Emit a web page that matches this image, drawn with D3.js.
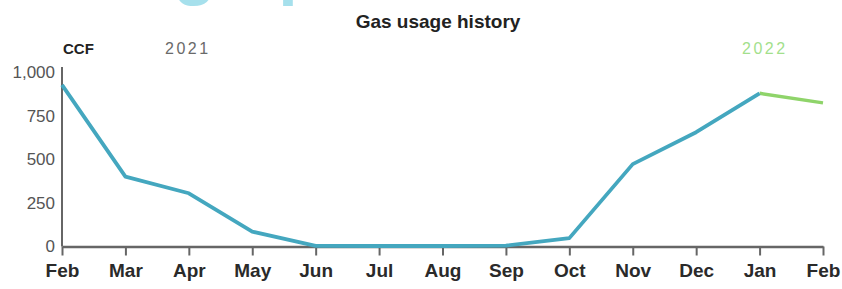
<!DOCTYPE html>
<html>
<head>
<meta charset="utf-8">
<script src="https://cdn.jsdelivr.net/npm/d3@7"></script>
<style>
  body { margin: 0; background: #fff; }
  svg { display: block; }
</style>
</head>
<body>
<svg width="842" height="289"></svg>
<script>
// chart values
var months = ["Feb", "Mar", "Apr", "May", "Jun", "Jul", "Aug", "Sep", "Oct", "Nov", "Dec", "Jan", "Feb"];
var usage = [926, 400, 305, 85, 4, 3, 3, 5, 48, 472, 655, 878, 823];
var yTicks = [0, 250, 500, 750, 1000];
var split = 11; // Jan: where the 2022 segment starts

(function () {
    var margin = { top: 72, right: 19, bottom: 42.5, left: 62 };
    var svg = d3.select("svg");
    var width = +svg.attr("width") - margin.left - margin.right;
    var height = +svg.attr("height") - margin.top - margin.bottom;

    var x = d3.scalePoint().domain(d3.range(months.length)).range([0, width]);
    var y = d3.scaleLinear().domain([0, 1000]).range([height, 0]);

    // cut-off headline above the chart (only the descenders show)
    svg.append("text")
        .attr("x", 321).attr("y", -9)
        .attr("text-anchor", "end")
        .attr("font-family", "Liberation Sans, Arial, sans-serif")
        .attr("font-weight", "bold")
        .attr("font-size", 70)
        .attr("fill", "#a6e0ec")
        .text("Heating up");

    svg.append("text")
        .attr("x", 438).attr("y", 28)
        .attr("text-anchor", "middle")
        .attr("font-family", "Liberation Sans, Arial, sans-serif")
        .attr("font-weight", "bold")
        .attr("font-size", 19)
        .attr("fill", "#222")
        .text("Gas usage history");

    svg.append("text")
        .attr("x", 63).attr("y", 54)
        .attr("font-family", "Liberation Sans, Arial, sans-serif")
        .attr("font-weight", "bold")
        .attr("font-size", 15)
        .attr("fill", "#222")
        .text("CCF");

    svg.append("text")
        .attr("x", 165).attr("y", 54)
        .attr("font-family", "Liberation Sans, Arial, sans-serif")
        .attr("font-size", 16)
        .attr("letter-spacing", 2.5)
        .attr("fill", "#6a6a6a")
        .text("2021");

    svg.append("text")
        .attr("x", 742).attr("y", 54)
        .attr("font-family", "Liberation Sans, Arial, sans-serif")
        .attr("font-size", 16)
        .attr("letter-spacing", 2.5)
        .attr("fill", "#a3df8c")
        .text("2022");

    var g = svg.append("g")
        .attr("transform", "translate(" + margin.left + "," + margin.top + ")");

    var yAxis = g.append("g")
        .attr("class", "axis axis--y")
        .call(d3.axisLeft(y).tickValues(yTicks).tickFormat(d3.format(",")).tickSize(0).tickPadding(7));
    yAxis.select(".domain")
        .attr("d", "M0," + (y(1000) - 5) + "V" + y(0))
        .attr("stroke", "#666").attr("stroke-width", 2);
    yAxis.selectAll("text")
        .attr("font-family", "Liberation Sans, Arial, sans-serif")
        .attr("font-size", 17)
        .attr("fill", "#555");

    var xAxis = g.append("g")
        .attr("class", "axis axis--x")
        .attr("transform", "translate(0," + height + ")")
        .call(d3.axisBottom(x).tickFormat(function (i) { return months[i]; }).tickSize(9).tickSizeOuter(0).tickPadding(8));
    xAxis.select(".domain").attr("stroke", "#666").attr("stroke-width", 2.5);
    xAxis.selectAll(".tick line").attr("stroke", "#666").attr("stroke-width", 2);
    xAxis.selectAll("text")
        .attr("font-family", "Liberation Sans, Arial, sans-serif")
        .attr("font-weight", "bold")
        .attr("font-size", 19)
        .attr("fill", "#2a2a2a");
    svg.selectAll(".axis").attr("font-family", null).attr("font-size", null);

    var line = d3.line()
        .x(function (d) { return x(d.i); })
        .y(function (d) { return y(d.v); });

    var points = usage.map(function (v, i) { return { i: i, v: v }; });

    g.append("path")
        .datum(points.slice(split))
        .attr("fill", "none")
        .attr("stroke", "#8fd46a")
        .attr("stroke-width", 3.5)
        .attr("stroke-linejoin", "round")
        .attr("d", line);

    g.append("path")
        .datum(points.slice(0, split + 1))
        .attr("fill", "none")
        .attr("stroke", "#44a7bf")
        .attr("stroke-width", 3.8)
        .attr("stroke-linejoin", "round")
        .attr("d", line);
}());
</script>
</body>
</html>
